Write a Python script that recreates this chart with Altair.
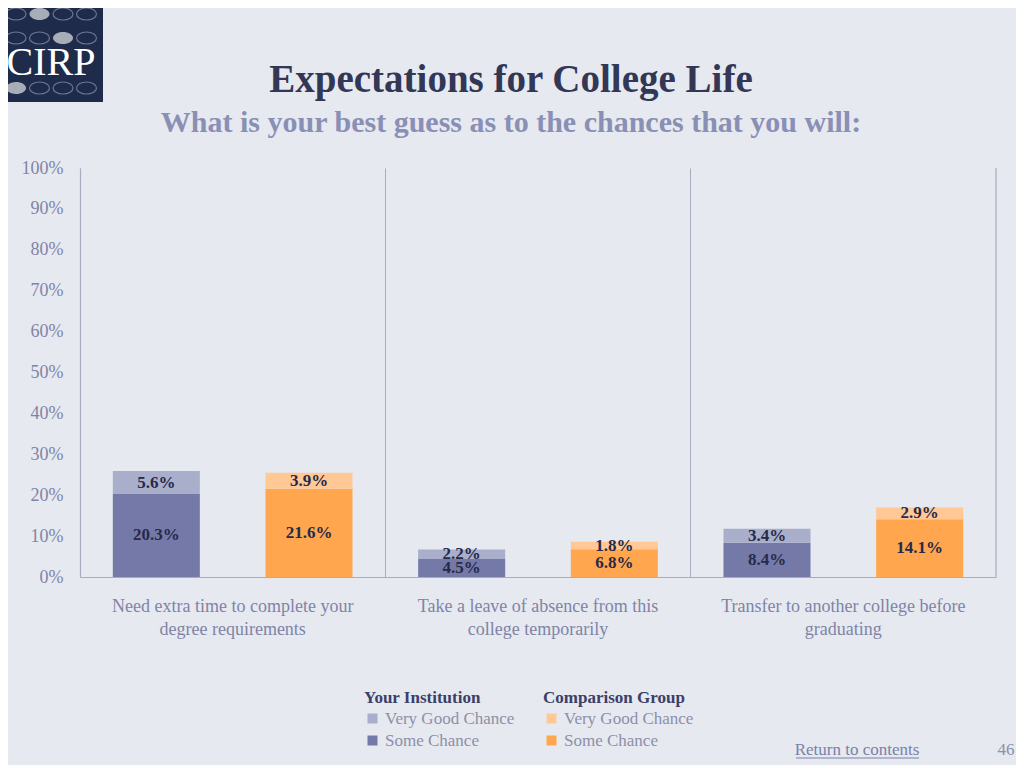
import altair as alt
import pandas as pd

# ---- data ----
categories = [
    "Need extra time to complete your\ndegree requirements",
    "Take a leave of absence from this\ncollege temporarily",
    "Transfer to another college before\ngraduating",
]
groups = ["Your Institution", "Comparison Group"]
segments = ["Very Good Chance", "Some Chance"]
inst_some = [20.3, 4.5, 8.4]
inst_very_good = [5.6, 2.2, 3.4]
comp_some = [21.6, 6.8, 14.1]
comp_very_good = [3.9, 1.8, 2.9]
y_ticks = [0, 10, 20, 30, 40, 50, 60, 70, 80, 90, 100]

rows = []
for g, some, vg in [(groups[0], inst_some, inst_very_good), (groups[1], comp_some, comp_very_good)]:
    for c, s, v in zip(categories, some, vg):
        rows.append(dict(category=c, group=g, segment="Some Chance", value=s, y0=0, y1=s))
        rows.append(dict(category=c, group=g, segment="Very Good Chance", value=v, y0=s, y1=s + v))
df = pd.DataFrame(rows)
df["mid"] = (df["y0"] + df["y1"]) / 2
df["label"] = df["value"].map(lambda v: f"{v:.1f}%")

W, H = 916, 409
FONT = "Liberation Serif"
BG = "#E6E9F0"
GRID = "#A9ACC0"

x_enc = alt.X(
    "category:N",
    sort=categories,
    scale=alt.Scale(paddingInner=0, paddingOuter=0),
    axis=alt.Axis(
        title=None, labelAngle=0, labelExpr="split(datum.label, '\\n')",
        labelFont=FONT, labelFontSize=18, labelColor="#7F84A6", labelPadding=20,
        labelLineHeight=23, labelLimit=400, ticks=False, grid=True, bandPosition=0,
        gridColor=GRID, gridWidth=1, domainColor=GRID, domainWidth=1.2,
    ),
)
xoff = alt.XOffset("group:N", sort=groups,
                   scale=alt.Scale(domain=groups, paddingInner=0.43, paddingOuter=0.215))
y_scale = alt.Scale(domain=[0, 100])
y_axis = alt.Axis(
    title=None, values=y_ticks, labelExpr="datum.value + '%'", grid=False, ticks=False,
    labelFont=FONT, labelFontSize=18, labelColor="#7F84A6", labelPadding=17,
    domainColor=GRID, domainWidth=1.2,
)

base = alt.Chart(df)
one = alt.Chart(pd.DataFrame({"k": [0]}))

inst = base.transform_filter(alt.datum.group == groups[0]).mark_rect().encode(
    x=x_enc, xOffset=xoff,
    y=alt.Y("y0:Q", scale=y_scale, axis=y_axis), y2="y1:Q",
    color=alt.Color("segment:N", scale=alt.Scale(domain=segments, range=["#A9AECB", "#7479A8"]),
                    legend=alt.Legend(title="Your Institution", orient="none", legendX=284, legendY=522)),
)
comp = base.transform_filter(alt.datum.group == groups[1]).mark_rect().encode(
    x=x_enc, xOffset=xoff,
    y=alt.Y("y0:Q", scale=y_scale, axis=y_axis), y2="y1:Q",
    fill=alt.Fill("segment:N", scale=alt.Scale(domain=segments, range=["#FFC894", "#FFA64F"]),
                  legend=alt.Legend(title="Comparison Group", orient="none", legendX=463, legendY=522)),
)
labels = base.mark_text(font=FONT, fontSize=17, fontWeight="bold", color="#262A4A", baseline="middle").encode(
    x=x_enc, xOffset=xoff, y=alt.Y("mid:Q", scale=y_scale), text="label:N",
)

right_edge = one.mark_rule(color=GRID, strokeWidth=1.2).encode(
    x=alt.value(W), y=alt.value(0), y2=alt.value(H)
)

# ---- titles ----
title = one.mark_text(text="Expectations for College Life", font=FONT, fontSize=39, fontWeight="bold",
                      color="#333756", align="center", baseline="alphabetic").encode(
    x=alt.value(431), y=alt.value(-76)
)
subtitle = one.mark_text(text="What is your best guess as to the chances that you will:", font=FONT,
                         fontSize=30, fontWeight="bold", color="#8A8FB5", align="center",
                         baseline="alphabetic").encode(
    x=alt.value(431), y=alt.value(-36)
)

# ---- logo (decoration) ----
logo = one.mark_rect(color="#1E2B4B").encode(
    x=alt.value(-72), x2=alt.value(23), y=alt.value(-160), y2=alt.value(-66)
)
logo_text = one.mark_text(text="CIRP", font=FONT, fontSize=40, color="white",
                          align="center", baseline="alphabetic").encode(
    x=alt.value(-29), y=alt.value(-93)
)
oval_rows = []
for r, ry in enumerate([-154, -130, -80]):
    for c in range(4):
        filled = (r, c) in [(0, 1), (1, 2), (2, 0)]
        oval_rows.append(dict(px=-64 + c * 23.5, py=ry, filled=filled))
ovals_df = pd.DataFrame(oval_rows)
oval_path = "M -1 0 A 1 0.6 0 1 1 1 0 A 1 0.6 0 1 1 -1 0 Z"
ovals_outline = alt.Chart(ovals_df).transform_filter(~alt.datum.filled).mark_point(
    shape=oval_path, size=400, filled=False, stroke="#8E98B0", strokeWidth=1.2
).encode(x=alt.X("px:Q", scale=None), y=alt.Y("py:Q", scale=None))
ovals_filled = alt.Chart(ovals_df).transform_filter(alt.datum.filled).mark_point(
    shape=oval_path, size=400, filled=True, fill="#A8AEB8", opacity=1, strokeWidth=0
).encode(x=alt.X("px:Q", scale=None), y=alt.Y("py:Q", scale=None))

# ---- footer ----
link = one.mark_text(text="Return to contents", font=FONT, fontSize=17, color="#7B80A8",
                     align="center", baseline="alphabetic").encode(
    x=alt.value(777), y=alt.value(587)
)
link_line = one.mark_rule(color="#7B80A8", strokeWidth=1).encode(
    x=alt.value(716), x2=alt.value(839), y=alt.value(590)
)
page_no = one.mark_text(text="46", font=FONT, fontSize=17, color="#8C90A8",
                        align="center", baseline="alphabetic").encode(
    x=alt.value(926), y=alt.value(587)
)

chart = alt.layer(
    logo, logo_text, ovals_outline, ovals_filled, title, subtitle, right_edge,
    inst, comp, labels, link, link_line, page_no
).resolve_scale(color="independent", fill="independent").resolve_legend(
    color="independent", fill="independent"
).properties(
    width=W, height=H,
    autosize=alt.AutoSizeParams(type="none"),
    padding={"left": 72, "top": 160, "right": 20, "bottom": 188},
    background=BG,
).configure_view(stroke=None).configure_legend(
    titleFont=FONT, titleFontSize=17, titleFontWeight="bold", titleColor="#3B4068",
    labelFont=FONT, labelFontSize=17, labelColor="#8C90A8",
    symbolType="square", symbolSize=100, symbolStrokeWidth=0, rowPadding=4,
    titlePadding=3, padding=0,
)

chart.save("out.html", embed_options={"renderer": "svg", "actions": False})
